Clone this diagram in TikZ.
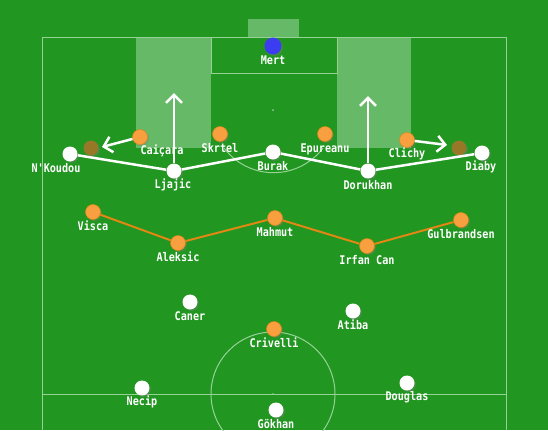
\documentclass[tikz,border=0pt]{standalone}
\usepackage{fontspec}
\setmonofont[FakeStretch=0.85]{DejaVu Sans Mono}
\usetikzlibrary{arrows.meta,shadows}
\definecolor{grass}{RGB}{33,150,33}
\definecolor{chalk}{RGB}{150,210,150}
\definecolor{boxfill}{RGB}{102,185,102}
\definecolor{awayorange}{RGB}{248,160,64}
\definecolor{awayline}{RGB}{225,135,20}
\definecolor{keeperblue}{RGB}{60,60,240}
\definecolor{ghostolive}{RGB}{150,120,40}
\tikzset{
  player/.style={circle,minimum size=0.30cm,inner sep=0pt,
    drop shadow={opacity=0.35,shadow xshift=0.03cm,shadow yshift=-0.03cm}},
  home/.style={player,fill=white},
  away/.style={player,fill=awayorange,draw=awayline,line width=0.01cm},
  keeper/.style={player,fill=keeperblue,minimum size=0.34cm},
  ghost/.style={player,fill=ghostolive},
  pname/.style={font=\ttfamily\bfseries\fontsize{6.8}{8}\selectfont,text=white,inner sep=0pt},
  marking/.style={draw=chalk,line width=0.02cm},
  run/.style={white,line width=0.05cm,-{Straight Barb[length=0.16cm,width=0.32cm]}}
}
\begin{document}
\begin{tikzpicture}[x=0.02cm,y=-0.02cm]
% grass and pitch
\fill[grass] (0,0) rectangle (548,430);
\useasboundingbox (0,0) rectangle (548,430);
\fill[boxfill] (248,19) rectangle (299,37);
\fill[boxfill] (136,37) rectangle (211,148);
\fill[boxfill] (337,37) rectangle (411,148);
\draw[marking] (42,430) -- (42,37) -- (506,37) -- (506,430);
\draw[marking] (211,37) rectangle (337,73);
\draw[marking] (224,148) arc[start angle=217,end angle=323,radius=1.24cm];
\draw[marking] (42,394) -- (506,394);
\draw[marking] (273,394) circle (62);
\fill[chalk] (273,110) circle (1);
\fill[chalk] (273,394) circle (1);

% home side
\node[keeper] (mert) at (273,46) {};
\node[home] (nkoudou) at (70,154) {};
\node[home] (ljajic) at (174,171) {};
\node[home] (burak) at (273,152) {};
\node[home] (dorukhan) at (368,171) {};
\node[home] (diaby) at (482,153) {};
\node[home] (caner) at (190,302) {};
\node[home] (atiba) at (353,311) {};
\node[home] (necip) at (142,388) {};
\node[home] (douglas) at (407,383) {};
\node[home] (gokhan) at (276,410) {};

% away side
\node[ghost] (ghostl) at (91,148) {};
\node[ghost] (ghostr) at (459,148) {};
\node[away] (caicara) at (140,137) {};
\node[away] (skrtel) at (220,134) {};
\node[away] (epureanu) at (325,134) {};
\node[away] (clichy) at (407,140) {};
\node[away] (visca) at (93,212) {};
\node[away] (aleksic) at (178,243) {};
\node[away] (mahmut) at (275,218) {};
\node[away] (irfan) at (367,246) {};
\node[away] (gulbrandsen) at (461,220) {};
\node[away] (crivelli) at (274,329) {};

% lines
\draw[white,line width=0.05cm] (nkoudou) -- (ljajic) -- (burak) -- (dorukhan) -- (diaby);
\draw[awayline,line width=0.04cm] (visca) -- (aleksic) -- (mahmut) -- (irfan) -- (gulbrandsen);

% runs
\coordinate (ljajic-run) at (174,93);
\coordinate (dorukhan-run) at (368,96);
\coordinate (caicara-run) at (102,147);
\coordinate (clichy-run) at (447,145);
\draw[run] (ljajic) -- (ljajic-run);
\draw[run] (dorukhan) -- (dorukhan-run);
\draw[run] (caicara) -- (caicara-run);
\draw[run] (clichy) -- (clichy-run);

% names
\node[pname] (mert-l) at (273,60) {Mert};
\node[pname] (nkoudou-l) at (56,168) {N'Koudou};
\node[pname] (ljajic-l) at (173,185) {Ljajic};
\node[pname] (burak-l) at (273,166) {Burak};
\node[pname] (dorukhan-l) at (368,185) {Dorukhan};
\node[pname] (diaby-l) at (481,167) {Diaby};
\node[pname] (caner-l) at (190,316) {Caner};
\node[pname] (atiba-l) at (353,325) {Atiba};
\node[pname] (necip-l) at (142,402) {Necip};
\node[pname] (douglas-l) at (407,397) {Douglas};
\node[pname] (gokhan-l) at (276,424) {Gökhan};
\node[pname] (caicara-l) at (162,151) {Caiçara};
\node[pname] (skrtel-l) at (220,148) {Skrtel};
\node[pname] (epureanu-l) at (325,149) {Epureanu};
\node[pname] (clichy-l) at (407,154) {Clichy};
\node[pname] (visca-l) at (93,226) {Visca};
\node[pname] (aleksic-l) at (178,257) {Aleksic};
\node[pname] (mahmut-l) at (275,232) {Mahmut};
\node[pname] (irfan-l) at (367,260) {Irfan Can};
\node[pname] (gulbrandsen-l) at (461,234) {Gulbrandsen};
\node[pname] (crivelli-l) at (274,343) {Crivelli};
\end{tikzpicture}
\end{document}
